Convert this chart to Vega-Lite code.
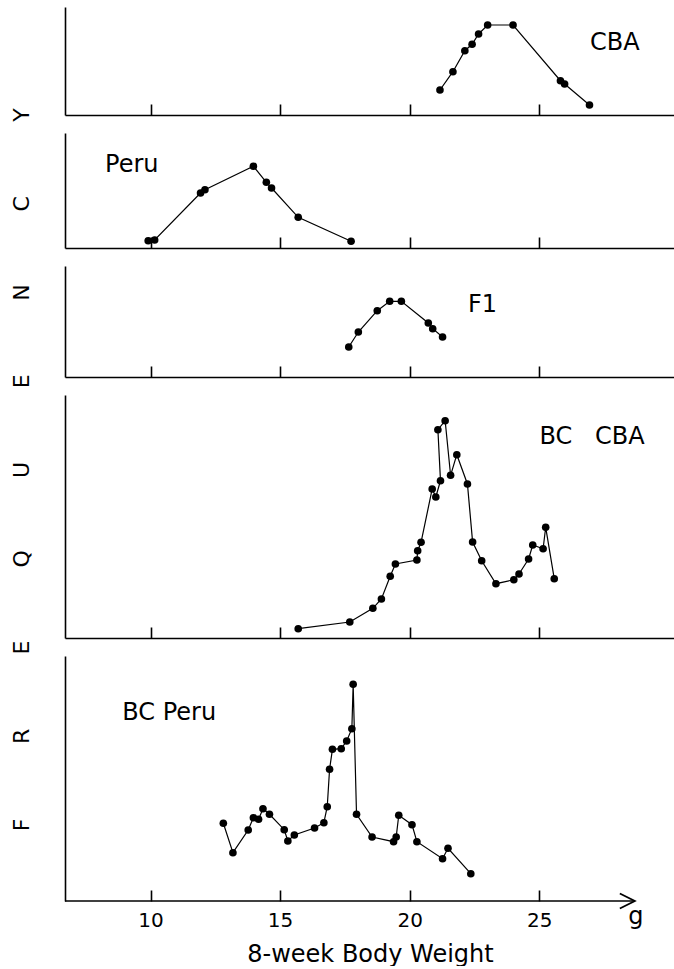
{
  "$schema": "https://vega.github.io/schema/vega-lite/v6.json",
  "padding": {"top": 7, "left": 0, "right": 0, "bottom": 0},
  "background": "white",
  "config": {
    "view": {"stroke": null},
    "font": "DejaVu Sans",
    "scale": {"zero": false},
    "axis": {"domainColor": "black", "domainWidth": 1.6, "tickColor": "black", "tickWidth": 1.6, "grid": false, "labelColor": "black", "titleColor": "black", "labelFont": "DejaVu Sans", "titleFont": "DejaVu Sans"}
  },
  "datasets": {
    "letters": [
      {"letter": "F", "pos": 1}, {"letter": "R", "pos": 2}, {"letter": "E", "pos": 3},
      {"letter": "Q", "pos": 4}, {"letter": "U", "pos": 5}, {"letter": "E", "pos": 6},
      {"letter": "N", "pos": 7}, {"letter": "C", "pos": 8}, {"letter": "Y", "pos": 9}
    ],
    "cba": [
      {"seq": 1, "weight": 21.17, "freq": 25}, {"seq": 2, "weight": 21.67, "freq": 43.3},
      {"seq": 3, "weight": 22.13, "freq": 64.3}, {"seq": 4, "weight": 22.41, "freq": 70.7},
      {"seq": 5, "weight": 22.66, "freq": 81}, {"seq": 6, "weight": 23.01, "freq": 90},
      {"seq": 7, "weight": 23.99, "freq": 90}, {"seq": 8, "weight": 25.82, "freq": 34.3},
      {"seq": 9, "weight": 25.98, "freq": 31}, {"seq": 10, "weight": 26.94, "freq": 10}
    ],
    "peru": [
      {"seq": 1, "weight": 9.91, "freq": 7.3}, {"seq": 2, "weight": 10.16, "freq": 8},
      {"seq": 3, "weight": 11.93, "freq": 55}, {"seq": 4, "weight": 12.10, "freq": 58.3},
      {"seq": 5, "weight": 13.97, "freq": 81.7}, {"seq": 6, "weight": 14.47, "freq": 65.7},
      {"seq": 7, "weight": 14.67, "freq": 60}, {"seq": 8, "weight": 15.70, "freq": 30.7},
      {"seq": 9, "weight": 17.74, "freq": 6.7}
    ],
    "f1": [
      {"seq": 1, "weight": 17.65, "freq": 30}, {"seq": 2, "weight": 18.02, "freq": 45},
      {"seq": 3, "weight": 18.75, "freq": 66.3}, {"seq": 4, "weight": 19.23, "freq": 75.7},
      {"seq": 5, "weight": 19.68, "freq": 75.7}, {"seq": 6, "weight": 20.72, "freq": 54},
      {"seq": 7, "weight": 20.89, "freq": 48.3}, {"seq": 8, "weight": 21.27, "freq": 40}
    ],
    "bccba": [
      {"seq": 1, "weight": 15.70, "freq": 9.3}, {"seq": 2, "weight": 17.69, "freq": 16},
      {"seq": 3, "weight": 18.58, "freq": 29.7}, {"seq": 4, "weight": 18.91, "freq": 39},
      {"seq": 5, "weight": 19.25, "freq": 61.7}, {"seq": 6, "weight": 19.45, "freq": 74},
      {"seq": 7, "weight": 20.28, "freq": 78}, {"seq": 8, "weight": 20.31, "freq": 87.3},
      {"seq": 9, "weight": 20.44, "freq": 95.7}, {"seq": 10, "weight": 20.87, "freq": 149},
      {"seq": 11, "weight": 21.01, "freq": 141}, {"seq": 12, "weight": 21.19, "freq": 157.3},
      {"seq": 13, "weight": 21.09, "freq": 208.3}, {"seq": 14, "weight": 21.37, "freq": 217.3},
      {"seq": 15, "weight": 21.58, "freq": 162.7}, {"seq": 16, "weight": 21.82, "freq": 183.3},
      {"seq": 17, "weight": 22.23, "freq": 154}, {"seq": 18, "weight": 22.43, "freq": 96},
      {"seq": 19, "weight": 22.78, "freq": 77.3}, {"seq": 20, "weight": 23.33, "freq": 54.3},
      {"seq": 21, "weight": 24.02, "freq": 58.3}, {"seq": 22, "weight": 24.22, "freq": 64},
      {"seq": 23, "weight": 24.59, "freq": 79}, {"seq": 24, "weight": 24.75, "freq": 93},
      {"seq": 25, "weight": 25.15, "freq": 89.3}, {"seq": 26, "weight": 25.25, "freq": 110.7},
      {"seq": 27, "weight": 25.58, "freq": 59.3}
    ],
    "bcperu": [
      {"seq": 1, "weight": 12.81, "freq": 77.7}, {"seq": 2, "weight": 13.18, "freq": 48.3},
      {"seq": 3, "weight": 13.77, "freq": 71}, {"seq": 4, "weight": 13.97, "freq": 83.3},
      {"seq": 5, "weight": 14.17, "freq": 81.7}, {"seq": 6, "weight": 14.34, "freq": 92.3},
      {"seq": 7, "weight": 14.59, "freq": 86.7}, {"seq": 8, "weight": 15.16, "freq": 71.3},
      {"seq": 9, "weight": 15.30, "freq": 60}, {"seq": 10, "weight": 15.55, "freq": 66},
      {"seq": 11, "weight": 16.33, "freq": 73}, {"seq": 12, "weight": 16.69, "freq": 78.3},
      {"seq": 13, "weight": 16.82, "freq": 94.3}, {"seq": 14, "weight": 16.91, "freq": 131.7},
      {"seq": 15, "weight": 17.02, "freq": 151.7}, {"seq": 16, "weight": 17.36, "freq": 152.3},
      {"seq": 17, "weight": 17.57, "freq": 160}, {"seq": 18, "weight": 17.77, "freq": 172.3},
      {"seq": 19, "weight": 17.82, "freq": 216.7}, {"seq": 20, "weight": 17.95, "freq": 86.7},
      {"seq": 21, "weight": 18.55, "freq": 64}, {"seq": 22, "weight": 19.38, "freq": 59.3},
      {"seq": 23, "weight": 19.48, "freq": 64}, {"seq": 24, "weight": 19.58, "freq": 85.7},
      {"seq": 25, "weight": 20.09, "freq": 76.3}, {"seq": 26, "weight": 20.28, "freq": 59.3},
      {"seq": 27, "weight": 21.27, "freq": 42.3}, {"seq": 28, "weight": 21.48, "freq": 52.7},
      {"seq": 29, "weight": 22.36, "freq": 27.3}
    ]
  },
  "spacing": 20,
  "hconcat": [
    {
      "width": 44,
      "height": 890,
      "data": {"name": "letters"},
      "mark": {"type": "text", "angle": 270, "fontSize": 22, "align": "center", "baseline": "middle", "font": "DejaVu Sans", "color": "black"},
      "encoding": {
        "x": {"datum": 0.5, "type": "quantitative", "scale": {"domain": [0, 1], "nice": false}, "axis": null},
        "y": {"field": "pos", "type": "quantitative", "scale": {"domain": [0.189, 10.217], "nice": false}, "axis": null},
        "text": {"field": "letter"}
      }
    },
    {
      "spacing": 17,
      "vconcat": [
        {
          "width": 610, "height": 108,
          "layer": [
            {"data": {"name": "cba"}, "mark": {"type": "line", "color": "black", "strokeWidth": 1.2},
             "encoding": {
               "x": {"field": "weight", "type": "quantitative", "scale": {"domain": [6.7, 30.24], "nice": false}, "axis": {"values": [10, 15, 20, 25], "tickSize": -11, "labels": false, "title": null, "domain": true}},
               "y": {"field": "freq", "type": "quantitative", "scale": {"domain": [0, 108], "nice": false}, "axis": {"ticks": false, "labels": false, "title": null, "domain": true}},
               "order": {"field": "seq"}}},
            {"data": {"name": "cba"}, "mark": {"type": "circle", "color": "black", "opacity": 1, "size": 58},
             "encoding": {"x": {"field": "weight", "type": "quantitative", "scale": {"domain": [6.7, 30.24], "nice": false}}, "y": {"field": "freq", "type": "quantitative", "scale": {"domain": [0, 108], "nice": false}}}},
            {"data": {"values": [{}]}, "mark": {"type": "text", "fontSize": 24, "align": "center", "baseline": "middle", "color": "black"},
             "encoding": {"x": {"datum": 27.92, "type": "quantitative", "scale": {"domain": [6.7, 30.24], "nice": false}}, "y": {"datum": 72, "type": "quantitative", "scale": {"domain": [0, 108], "nice": false}}, "text": {"value": "CBA"}}}
          ]
        },
        {
          "width": 610, "height": 115,
          "layer": [
            {"data": {"name": "peru"}, "mark": {"type": "line", "color": "black", "strokeWidth": 1.2},
             "encoding": {
               "x": {"field": "weight", "type": "quantitative", "scale": {"domain": [6.7, 30.24], "nice": false}, "axis": {"values": [10, 15, 20, 25], "tickSize": -11, "labels": false, "title": null, "domain": true}},
               "y": {"field": "freq", "type": "quantitative", "scale": {"domain": [0, 115], "nice": false}, "axis": {"ticks": false, "labels": false, "title": null, "domain": true}},
               "order": {"field": "seq"}}},
            {"data": {"name": "peru"}, "mark": {"type": "circle", "color": "black", "opacity": 1, "size": 58},
             "encoding": {"x": {"field": "weight", "type": "quantitative", "scale": {"domain": [6.7, 30.24], "nice": false}}, "y": {"field": "freq", "type": "quantitative", "scale": {"domain": [0, 115], "nice": false}}}},
            {"data": {"values": [{}]}, "mark": {"type": "text", "fontSize": 24, "align": "center", "baseline": "middle", "color": "black"},
             "encoding": {"x": {"datum": 9.28, "type": "quantitative", "scale": {"domain": [6.7, 30.24], "nice": false}}, "y": {"datum": 83, "type": "quantitative", "scale": {"domain": [0, 115], "nice": false}}, "text": {"value": "Peru"}}}
          ]
        },
        {
          "width": 610, "height": 111,
          "layer": [
            {"data": {"name": "f1"}, "mark": {"type": "line", "color": "black", "strokeWidth": 1.2},
             "encoding": {
               "x": {"field": "weight", "type": "quantitative", "scale": {"domain": [6.7, 30.24], "nice": false}, "axis": {"values": [10, 15, 20, 25], "tickSize": -11, "labels": false, "title": null, "domain": true}},
               "y": {"field": "freq", "type": "quantitative", "scale": {"domain": [0, 111], "nice": false}, "axis": {"ticks": false, "labels": false, "title": null, "domain": true}},
               "order": {"field": "seq"}}},
            {"data": {"name": "f1"}, "mark": {"type": "circle", "color": "black", "opacity": 1, "size": 58},
             "encoding": {"x": {"field": "weight", "type": "quantitative", "scale": {"domain": [6.7, 30.24], "nice": false}}, "y": {"field": "freq", "type": "quantitative", "scale": {"domain": [0, 111], "nice": false}}}},
            {"data": {"values": [{}]}, "mark": {"type": "text", "fontSize": 24, "align": "center", "baseline": "middle", "color": "black"},
             "encoding": {"x": {"datum": 22.81, "type": "quantitative", "scale": {"domain": [6.7, 30.24], "nice": false}}, "y": {"datum": 72, "type": "quantitative", "scale": {"domain": [0, 111], "nice": false}}, "text": {"value": "F1"}}}
          ]
        },
        {
          "width": 610, "height": 243,
          "layer": [
            {"data": {"name": "bccba"}, "mark": {"type": "line", "color": "black", "strokeWidth": 1.2},
             "encoding": {
               "x": {"field": "weight", "type": "quantitative", "scale": {"domain": [6.7, 30.24], "nice": false}, "axis": {"values": [10, 15, 20, 25], "tickSize": -11, "labels": false, "title": null, "domain": true}},
               "y": {"field": "freq", "type": "quantitative", "scale": {"domain": [0, 243], "nice": false}, "axis": {"ticks": false, "labels": false, "title": null, "domain": true}},
               "order": {"field": "seq"}}},
            {"data": {"name": "bccba"}, "mark": {"type": "circle", "color": "black", "opacity": 1, "size": 58},
             "encoding": {"x": {"field": "weight", "type": "quantitative", "scale": {"domain": [6.7, 30.24], "nice": false}}, "y": {"field": "freq", "type": "quantitative", "scale": {"domain": [0, 243], "nice": false}}}},
            {"data": {"values": [{}]}, "mark": {"type": "text", "fontSize": 24, "align": "center", "baseline": "middle", "color": "black"},
             "encoding": {"x": {"datum": 27.04, "type": "quantitative", "scale": {"domain": [6.7, 30.24], "nice": false}}, "y": {"datum": 201, "type": "quantitative", "scale": {"domain": [0, 243], "nice": false}}, "text": {"value": "BC\u00a0\u00a0\u00a0CBA"}}}
          ]
        },
        {
          "width": 610, "height": 245,
          "layer": [
            {"data": {"name": "bcperu"}, "mark": {"type": "line", "color": "black", "strokeWidth": 1.2},
             "encoding": {
               "x": {"field": "weight", "type": "quantitative", "scale": {"domain": [6.7, 30.24], "nice": false}, "axis": {"values": [10, 15, 20, 25], "format": "d", "tickSize": -11, "labels": true, "labelFontSize": 20, "labelPadding": 20, "domain": false, "title": "8-week Body Weight", "titleFontSize": 24, "titleFontWeight": "normal", "titlePadding": 12}},
               "y": {"field": "freq", "type": "quantitative", "scale": {"domain": [0, 245], "nice": false}, "axis": {"ticks": false, "labels": false, "title": null, "domain": true}},
               "order": {"field": "seq"}}},
            {"data": {"name": "bcperu"}, "mark": {"type": "circle", "color": "black", "opacity": 1, "size": 58},
             "encoding": {"x": {"field": "weight", "type": "quantitative", "scale": {"domain": [6.7, 30.24], "nice": false}}, "y": {"field": "freq", "type": "quantitative", "scale": {"domain": [0, 245], "nice": false}}}},
            {"data": {"values": [{}]}, "mark": {"type": "text", "fontSize": 24, "align": "center", "baseline": "middle", "color": "black"},
             "encoding": {"x": {"datum": 10.72, "type": "quantitative", "scale": {"domain": [6.7, 30.24], "nice": false}}, "y": {"datum": 188, "type": "quantitative", "scale": {"domain": [0, 245], "nice": false}}, "text": {"value": "BC Peru"}}},
            {"data": {"values": [{}]}, "mark": {"type": "rule", "color": "black", "strokeWidth": 1.6},
             "encoding": {"x": {"datum": 6.7, "type": "quantitative", "scale": {"domain": [6.7, 30.24], "nice": false}}, "x2": {"datum": 28.69}, "y": {"datum": 0, "type": "quantitative", "scale": {"domain": [0, 245], "nice": false}}}},
            {"data": {"values": [{}]}, "mark": {"type": "point", "shape": "M-1,-0.5L0,0L-1,0.5", "size": 900, "filled": false, "stroke": "black", "strokeWidth": 1.8, "opacity": 1},
             "encoding": {"x": {"datum": 28.69, "type": "quantitative", "scale": {"domain": [6.7, 30.24], "nice": false}}, "y": {"datum": 0, "type": "quantitative", "scale": {"domain": [0, 245], "nice": false}}}},
            {"data": {"values": [{}]}, "mark": {"type": "text", "fontSize": 24, "align": "center", "baseline": "alphabetic", "color": "black"},
             "encoding": {"x": {"datum": 28.73, "type": "quantitative", "scale": {"domain": [6.7, 30.24], "nice": false}}, "y": {"datum": -23, "type": "quantitative", "scale": {"domain": [0, 245], "nice": false}}, "text": {"value": "g"}}}
          ]
        }
      ]
    }
  ]
}
